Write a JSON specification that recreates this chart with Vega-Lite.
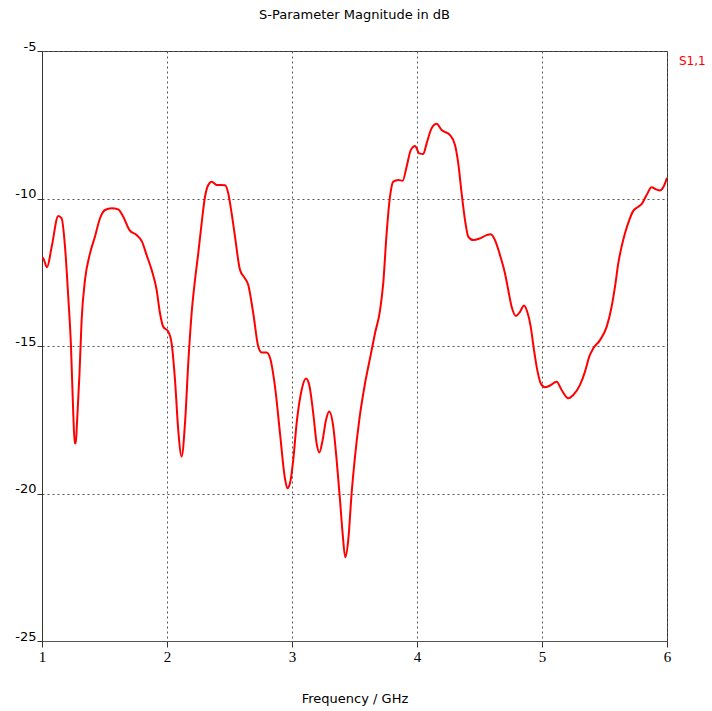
{
  "$schema": "https://vega.github.io/schema/vega-lite/v6.json",
  "width": 625,
  "height": 590,
  "autosize": {"type": "none"},
  "padding": {"left": 42, "top": 51, "right": 45, "bottom": 70},
  "background": "white",
  "title": {"text": "S-Parameter Magnitude in dB", "font": "DejaVu Sans", "fontSize": 13, "fontWeight": "normal", "color": "#000", "anchor": "middle", "offset": 18},
  "config": {
    "view": {"stroke": "#333", "strokeWidth": 1},
    "axis": {"labelFont": "DejaVu Sans", "titleFont": "DejaVu Sans", "labelColor": "#000", "titleColor": "#000", "titleFontWeight": "normal"}
  },
  "data": {"values": [
    {"f":1.0,"db":-12.0,"s":"S1,1"},{"f":1.01,"db":-12.03,"s":"S1,1"},{"f":1.04,"db":-12.33,"s":"S1,1"},{"f":1.078,"db":-11.63,"s":"S1,1"},{"f":1.13,"db":-10.59,"s":"S1,1"},{"f":1.157,"db":-10.67,"s":"S1,1"},{"f":1.184,"db":-11.63,"s":"S1,1"},{"f":1.21,"db":-13.33,"s":"S1,1"},{"f":1.232,"db":-15.02,"s":"S1,1"},{"f":1.25,"db":-17.28,"s":"S1,1"},{"f":1.262,"db":-18.3,"s":"S1,1"},{"f":1.27,"db":-18.3,"s":"S1,1"},{"f":1.28,"db":-17.6,"s":"S1,1"},{"f":1.30,"db":-15.93,"s":"S1,1"},{"f":1.317,"db":-14.12,"s":"S1,1"},{"f":1.344,"db":-12.76,"s":"S1,1"},{"f":1.384,"db":-11.86,"s":"S1,1"},{"f":1.424,"db":-11.29,"s":"S1,1"},{"f":1.464,"db":-10.67,"s":"S1,1"},{"f":1.504,"db":-10.39,"s":"S1,1"},{"f":1.557,"db":-10.33,"s":"S1,1"},{"f":1.61,"db":-10.37,"s":"S1,1"},{"f":1.65,"db":-10.62,"s":"S1,1"},{"f":1.70,"db":-11.07,"s":"S1,1"},{"f":1.757,"db":-11.24,"s":"S1,1"},{"f":1.80,"db":-11.46,"s":"S1,1"},{"f":1.837,"db":-11.92,"s":"S1,1"},{"f":1.877,"db":-12.42,"s":"S1,1"},{"f":1.917,"db":-13.1,"s":"S1,1"},{"f":1.944,"db":-13.89,"s":"S1,1"},{"f":1.97,"db":-14.35,"s":"S1,1"},{"f":2.01,"db":-14.51,"s":"S1,1"},{"f":2.037,"db":-14.91,"s":"S1,1"},{"f":2.064,"db":-16.15,"s":"S1,1"},{"f":2.09,"db":-17.85,"s":"S1,1"},{"f":2.117,"db":-18.75,"s":"S1,1"},{"f":2.144,"db":-17.62,"s":"S1,1"},{"f":2.17,"db":-15.59,"s":"S1,1"},{"f":2.197,"db":-13.89,"s":"S1,1"},{"f":2.224,"db":-12.76,"s":"S1,1"},{"f":2.25,"db":-11.86,"s":"S1,1"},{"f":2.277,"db":-10.84,"s":"S1,1"},{"f":2.304,"db":-9.94,"s":"S1,1"},{"f":2.33,"db":-9.54,"s":"S1,1"},{"f":2.357,"db":-9.43,"s":"S1,1"},{"f":2.397,"db":-9.54,"s":"S1,1"},{"f":2.464,"db":-9.55,"s":"S1,1"},{"f":2.49,"db":-9.82,"s":"S1,1"},{"f":2.517,"db":-10.5,"s":"S1,1"},{"f":2.544,"db":-11.29,"s":"S1,1"},{"f":2.584,"db":-12.42,"s":"S1,1"},{"f":2.624,"db":-12.71,"s":"S1,1"},{"f":2.65,"db":-12.93,"s":"S1,1"},{"f":2.69,"db":-13.89,"s":"S1,1"},{"f":2.73,"db":-15.02,"s":"S1,1"},{"f":2.757,"db":-15.22,"s":"S1,1"},{"f":2.797,"db":-15.22,"s":"S1,1"},{"f":2.824,"db":-15.4,"s":"S1,1"},{"f":2.864,"db":-16.38,"s":"S1,1"},{"f":2.904,"db":-17.96,"s":"S1,1"},{"f":2.944,"db":-19.5,"s":"S1,1"},{"f":2.963,"db":-19.82,"s":"S1,1"},{"f":2.984,"db":-19.65,"s":"S1,1"},{"f":3.01,"db":-18.86,"s":"S1,1"},{"f":3.037,"db":-17.62,"s":"S1,1"},{"f":3.077,"db":-16.49,"s":"S1,1"},{"f":3.112,"db":-16.1,"s":"S1,1"},{"f":3.138,"db":-16.32,"s":"S1,1"},{"f":3.17,"db":-17.28,"s":"S1,1"},{"f":3.197,"db":-18.3,"s":"S1,1"},{"f":3.218,"db":-18.61,"s":"S1,1"},{"f":3.245,"db":-18.19,"s":"S1,1"},{"f":3.272,"db":-17.51,"s":"S1,1"},{"f":3.298,"db":-17.22,"s":"S1,1"},{"f":3.33,"db":-17.73,"s":"S1,1"},{"f":3.357,"db":-18.86,"s":"S1,1"},{"f":3.384,"db":-20.22,"s":"S1,1"},{"f":3.405,"db":-21.35,"s":"S1,1"},{"f":3.426,"db":-22.16,"s":"S1,1"},{"f":3.45,"db":-21.58,"s":"S1,1"},{"f":3.477,"db":-19.99,"s":"S1,1"},{"f":3.504,"db":-18.75,"s":"S1,1"},{"f":3.538,"db":-17.51,"s":"S1,1"},{"f":3.584,"db":-16.27,"s":"S1,1"},{"f":3.624,"db":-15.42,"s":"S1,1"},{"f":3.664,"db":-14.57,"s":"S1,1"},{"f":3.704,"db":-13.8,"s":"S1,1"},{"f":3.73,"db":-12.87,"s":"S1,1"},{"f":3.757,"db":-11.18,"s":"S1,1"},{"f":3.784,"db":-9.94,"s":"S1,1"},{"f":3.81,"db":-9.43,"s":"S1,1"},{"f":3.85,"db":-9.37,"s":"S1,1"},{"f":3.885,"db":-9.4,"s":"S1,1"},{"f":3.917,"db":-8.92,"s":"S1,1"},{"f":3.95,"db":-8.36,"s":"S1,1"},{"f":3.984,"db":-8.22,"s":"S1,1"},{"f":4.018,"db":-8.47,"s":"S1,1"},{"f":4.05,"db":-8.49,"s":"S1,1"},{"f":4.077,"db":-8.13,"s":"S1,1"},{"f":4.117,"db":-7.62,"s":"S1,1"},{"f":4.157,"db":-7.47,"s":"S1,1"},{"f":4.197,"db":-7.68,"s":"S1,1"},{"f":4.264,"db":-7.85,"s":"S1,1"},{"f":4.304,"db":-8.19,"s":"S1,1"},{"f":4.33,"db":-8.81,"s":"S1,1"},{"f":4.357,"db":-9.82,"s":"S1,1"},{"f":4.384,"db":-10.73,"s":"S1,1"},{"f":4.41,"db":-11.29,"s":"S1,1"},{"f":4.45,"db":-11.41,"s":"S1,1"},{"f":4.504,"db":-11.35,"s":"S1,1"},{"f":4.557,"db":-11.24,"s":"S1,1"},{"f":4.59,"db":-11.21,"s":"S1,1"},{"f":4.624,"db":-11.41,"s":"S1,1"},{"f":4.664,"db":-11.92,"s":"S1,1"},{"f":4.704,"db":-12.54,"s":"S1,1"},{"f":4.73,"db":-13.1,"s":"S1,1"},{"f":4.757,"db":-13.67,"s":"S1,1"},{"f":4.792,"db":-13.98,"s":"S1,1"},{"f":4.824,"db":-13.84,"s":"S1,1"},{"f":4.856,"db":-13.63,"s":"S1,1"},{"f":4.882,"db":-13.84,"s":"S1,1"},{"f":4.91,"db":-14.35,"s":"S1,1"},{"f":4.936,"db":-15.14,"s":"S1,1"},{"f":4.962,"db":-15.81,"s":"S1,1"},{"f":4.99,"db":-16.27,"s":"S1,1"},{"f":5.024,"db":-16.4,"s":"S1,1"},{"f":5.064,"db":-16.34,"s":"S1,1"},{"f":5.117,"db":-16.21,"s":"S1,1"},{"f":5.157,"db":-16.49,"s":"S1,1"},{"f":5.21,"db":-16.77,"s":"S1,1"},{"f":5.25,"db":-16.66,"s":"S1,1"},{"f":5.304,"db":-16.32,"s":"S1,1"},{"f":5.344,"db":-15.87,"s":"S1,1"},{"f":5.378,"db":-15.36,"s":"S1,1"},{"f":5.41,"db":-15.08,"s":"S1,1"},{"f":5.464,"db":-14.8,"s":"S1,1"},{"f":5.517,"db":-14.35,"s":"S1,1"},{"f":5.557,"db":-13.67,"s":"S1,1"},{"f":5.584,"db":-12.99,"s":"S1,1"},{"f":5.61,"db":-12.2,"s":"S1,1"},{"f":5.637,"db":-11.63,"s":"S1,1"},{"f":5.664,"db":-11.18,"s":"S1,1"},{"f":5.698,"db":-10.73,"s":"S1,1"},{"f":5.73,"db":-10.42,"s":"S1,1"},{"f":5.77,"db":-10.28,"s":"S1,1"},{"f":5.797,"db":-10.19,"s":"S1,1"},{"f":5.837,"db":-9.88,"s":"S1,1"},{"f":5.877,"db":-9.62,"s":"S1,1"},{"f":5.912,"db":-9.69,"s":"S1,1"},{"f":5.944,"db":-9.73,"s":"S1,1"},{"f":5.97,"db":-9.62,"s":"S1,1"},{"f":6.0,"db":-9.3,"s":"S1,1"}
  ]},
  "mark": {"type": "line", "interpolate": "monotone", "strokeWidth": 2, "clip": true},
  "encoding": {
    "x": {
      "field": "f", "type": "quantitative",
      "scale": {"domain": [1, 6], "nice": false, "zero": false},
      "axis": {"title": "Frequency / GHz", "values": [1, 2, 3, 4, 5, 6], "labelFont": "Liberation Serif", "labelFontSize": 15, "labelPadding": 2, "tickSize": 6, "tickColor": "#333", "domainColor": "#555", "titleFontSize": 13, "titlePadding": 28, "grid": true, "gridColor": "#555", "gridDash": [2, 3], "gridWidth": 1, "labelFlush": false}
    },
    "y": {
      "field": "db", "type": "quantitative",
      "scale": {"domain": [-25, -5], "nice": false, "zero": false},
      "axis": {"title": null, "values": [-25, -20, -15, -10, -5], "labelExpr": "toString(datum.value)", "labelFontSize": 13, "labelBaseline": "alphabetic", "labelOffset": -1, "labelPadding": 1, "tickSize": 5, "tickColor": "#333", "domainColor": "#333", "grid": true, "gridColor": "#555", "gridDash": [2, 3], "gridWidth": 1, "labelFlush": false}
    },
    "color": {
      "field": "s", "type": "nominal",
      "scale": {"range": ["#ff0000"]},
      "legend": {"title": null, "orient": "none", "legendX": 625, "legendY": 4, "symbolSize": 0, "symbolStrokeWidth": 0, "symbolOpacity": 0, "labelColor": "#ff0000", "labelFont": "DejaVu Sans", "labelFontSize": 12, "labelOffset": 0, "padding": 0, "labelLimit": 60}
    }
  }
}
